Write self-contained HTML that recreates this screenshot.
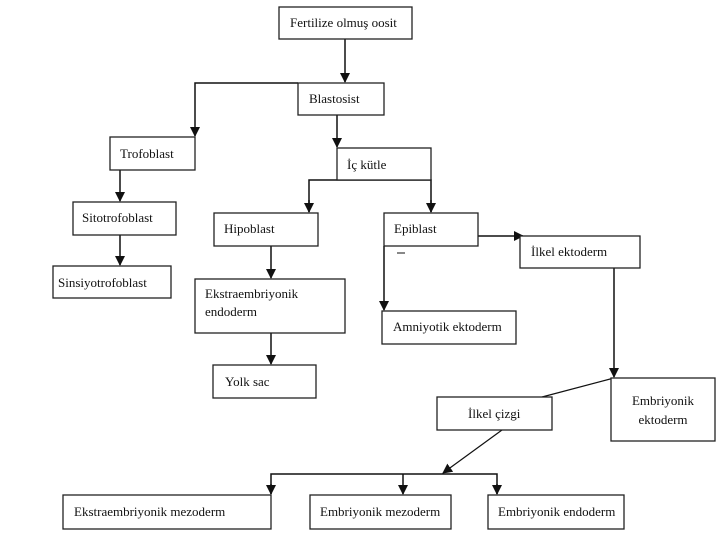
<!DOCTYPE html>
<html><head><style>
html,body{margin:0;padding:0;background:#fff;}
svg{display:block;}
text{font-family:"Liberation Serif",serif;font-size:13px;fill:#111;}
rect{fill:#fff;stroke:#222;stroke-width:1.3;}
line,polyline{stroke:#111;stroke-width:1.5;fill:none;}
</style></head><body>
<svg width="720" height="540" viewBox="0 0 720 540">
<defs><marker id="a" markerWidth="10" markerHeight="10" refX="9" refY="5" orient="auto" markerUnits="userSpaceOnUse"><path d="M0,0 L10,5 L0,10 z" fill="#111"/></marker></defs>
<line x1="345" y1="39" x2="345" y2="82" marker-end="url(#a)"/>
<polyline points="298,83 195,83 195,136" marker-end="url(#a)"/>
<line x1="337" y1="115" x2="337" y2="147" marker-end="url(#a)"/>
<polyline points="309,212 309,180 431,180 431,212"/>
<line x1="309" y1="200" x2="309" y2="212" marker-end="url(#a)"/>
<line x1="431" y1="200" x2="431" y2="212" marker-end="url(#a)"/>
<line x1="120" y1="170" x2="120" y2="201" marker-end="url(#a)"/>
<line x1="120" y1="235" x2="120" y2="265" marker-end="url(#a)"/>
<line x1="271" y1="246" x2="271" y2="278" marker-end="url(#a)"/>
<line x1="271" y1="333" x2="271" y2="364" marker-end="url(#a)"/>
<line x1="478" y1="236" x2="523" y2="236" marker-end="url(#a)"/>
<line x1="384" y1="246" x2="384" y2="310" marker-end="url(#a)"/>
<line x1="397" y1="253" x2="405" y2="253" style="stroke-width:1"/>
<line x1="614" y1="268" x2="614" y2="377" marker-end="url(#a)"/>
<line x1="614" y1="378" x2="542" y2="397" style="stroke-width:1.2"/>
<line x1="502" y1="430" x2="443" y2="473" marker-end="url(#a)" style="stroke-width:1.2"/>
<polyline points="271,494 271,474 497,474 497,494"/>
<line x1="271" y1="484" x2="271" y2="494" marker-end="url(#a)"/>
<line x1="403" y1="474" x2="403" y2="494" marker-end="url(#a)"/>
<line x1="497" y1="484" x2="497" y2="494" marker-end="url(#a)"/>
<rect x="279" y="7" width="133" height="32"/><text x="290" y="27">Fertilize olmuş oosit</text>
<rect x="298" y="83" width="86" height="32"/><text x="309" y="103">Blastosist</text>
<rect x="110" y="137" width="85" height="33"/><text x="120" y="158">Trofoblast</text>
<rect x="337" y="148" width="94" height="32"/><text x="347" y="169">İç kütle</text>
<rect x="73" y="202" width="103" height="33"/><text x="82" y="222">Sitotrofoblast</text>
<rect x="214" y="213" width="104" height="33"/><text x="224" y="233">Hipoblast</text>
<rect x="384" y="213" width="94" height="33"/><text x="394" y="233">Epiblast</text>
<rect x="520" y="236" width="120" height="32"/><text x="531" y="256">İlkel ektoderm</text>
<rect x="53" y="266" width="118" height="32"/><text x="58" y="287">Sinsiyotrofoblast</text>
<rect x="195" y="279" width="150" height="54"/><text x="205" y="298">Ekstraembriyonik</text><text x="205" y="316">endoderm</text>
<rect x="382" y="311" width="134" height="33"/><text x="393" y="331">Amniyotik ektoderm</text>
<rect x="213" y="365" width="103" height="33"/><text x="225" y="386">Yolk sac</text>
<rect x="437" y="397" width="115" height="33"/><text x="468" y="418">İlkel çizgi</text>
<rect x="611" y="378" width="104" height="63"/><text x="663" y="405" text-anchor="middle">Embriyonik</text><text x="663" y="424" text-anchor="middle">ektoderm</text>
<rect x="63" y="495" width="208" height="34"/><text x="74" y="516">Ekstraembriyonik mezoderm</text>
<rect x="310" y="495" width="141" height="34"/><text x="320" y="516">Embriyonik mezoderm</text>
<rect x="488" y="495" width="136" height="34"/><text x="498" y="516">Embriyonik endoderm</text>
</svg>
</body></html>
